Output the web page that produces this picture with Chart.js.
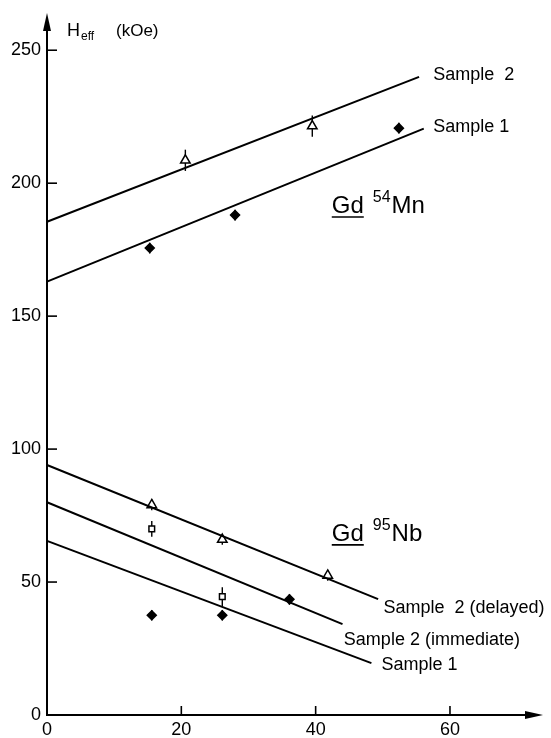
<!DOCTYPE html>
<html lang="en">
<head>
    <meta charset="utf-8" />
    <title>Heff vs x</title>
    <script src="https://cdn.jsdelivr.net/npm/chart.js"></script>
    <style>
        body { margin: 0; background: #fff; }
        #wrap { width: 551px; height: 738px; }
    </style>
</head>
<body>
    <div id="wrap"><canvas id="heffChart" width="551" height="738"></canvas></div>
    <script>
        // tick labels
        const xTicks = [0, 20, 40, 60];
        const yTicks = [0, 50, 100, 150, 200, 250];

        // Gd 54Mn
        const mnS1X = [15.3, 28.0, 52.4];
        const mnS1Y = [175.6, 188.0, 220.7];
        const mnS1Err = [2, 2, 2];
        const mnS2X = [20.6, 39.5];
        const mnS2Y = [208.6, 221.5];
        const mnS2Err = [4, 4];

        // Gd 95Nb
        const nbS1X = [15.6, 26.1, 36.1];
        const nbS1Y = [37.5, 37.5, 43.5];
        const nbS1Err = [2, 2, 2];
        const nbImmX = [15.6, 26.1];
        const nbImmY = [70.0, 44.5];
        const nbImmErr = [3, 3.5];
        const nbDelX = [15.6, 26.1, 41.8];
        const nbDelY = [79.0, 66.0, 52.5];
        const nbDelErr = [2, 2, 2];

        // fitted lines (end points)
        const fitMnS2X = [0, 55.4], fitMnS2Y = [185.5, 240.0];
        const fitMnS1X = [0, 56.1], fitMnS1Y = [163.0, 220.5];
        const fitNbDelX = [0, 49.3], fitNbDelY = [94.0, 43.6];
        const fitNbImmX = [0, 44.0], fitNbImmY = [80.0, 34.2];
        const fitNbS1X = [0, 48.3], fitNbS1Y = [65.5, 19.5];

        const FONT = '"Liberation Sans", Arial, sans-serif';

        function pts(xs, ys) {
            return xs.map((x, i) => ({ x: x, y: ys[i] }));
        }

        function fitLine(xs, ys) {
            return {
                data: pts(xs, ys),
                showLine: true,
                borderColor: '#000',
                borderWidth: 2,
                pointRadius: 0,
                clip: false
            };
        }

        function markers(xs, ys, errs, style, fill, r) {
            return {
                data: pts(xs, ys),
                errs: errs,
                showLine: false,
                pointStyle: style,
                pointRadius: r,
                pointBackgroundColor: fill,
                pointBorderColor: '#000',
                pointBorderWidth: 1.5,
                clip: false
            };
        }

        const axesPlugin = {
            id: 'axesPlugin',
            beforeDatasetsDraw(chart) {
                const ctx = chart.ctx;
                const xs = chart.scales.x, ys = chart.scales.y;
                const x0 = xs.getPixelForValue(0), y0 = ys.getPixelForValue(0);
                const ca = chart.chartArea;
                ctx.save();
                ctx.strokeStyle = '#000';
                ctx.fillStyle = '#000';
                ctx.lineWidth = 2;
                // axes
                ctx.beginPath();
                ctx.moveTo(x0, ca.top + 14);
                ctx.lineTo(x0, y0);
                ctx.lineTo(ca.right - 14, y0);
                ctx.stroke();
                // arrows
                ctx.beginPath();
                ctx.moveTo(x0, ca.top);
                ctx.lineTo(x0 - 4, ca.top + 18);
                ctx.lineTo(x0 + 4, ca.top + 18);
                ctx.closePath();
                ctx.fill();
                ctx.beginPath();
                ctx.moveTo(ca.right - 1, y0);
                ctx.lineTo(ca.right - 19, y0 - 4);
                ctx.lineTo(ca.right - 19, y0 + 4);
                ctx.closePath();
                ctx.fill();

                // ticks and labels
                ctx.lineWidth = 1.6;
                ctx.font = '18px ' + FONT;
                ctx.textAlign = 'right';
                ctx.textBaseline = 'middle';
                yTicks.forEach(v => {
                    const py = ys.getPixelForValue(v);
                    if (v !== 0) {
                        ctx.beginPath();
                        ctx.moveTo(x0, py);
                        ctx.lineTo(x0 + 10, py);
                        ctx.stroke();
                    }
                    ctx.fillText(String(v), x0 - 6, py);
                });
                ctx.textAlign = 'center';
                ctx.textBaseline = 'top';
                xTicks.forEach(v => {
                    const px = xs.getPixelForValue(v);
                    if (v !== 0) {
                        ctx.beginPath();
                        ctx.moveTo(px, y0);
                        ctx.lineTo(px, y0 - 9);
                        ctx.stroke();
                    }
                    ctx.fillText(String(v), px, y0 + 6);
                });

                // axis title H_eff (kOe)
                ctx.textAlign = 'left';
                ctx.textBaseline = 'alphabetic';
                ctx.font = '18px ' + FONT;
                ctx.fillText('H', x0 + 20, 36);
                ctx.font = '12px ' + FONT;
                ctx.fillText('eff', x0 + 34, 40);
                ctx.font = '17px ' + FONT;
                ctx.fillText('(kOe)', x0 + 69, 36);

                // error bars
                ctx.lineWidth = 1.4;
                chart.data.datasets.forEach(ds => {
                    if (!ds.errs) return;
                    ds.data.forEach((p, i) => {
                        const px = xs.getPixelForValue(p.x);
                        ctx.beginPath();
                        ctx.moveTo(px, ys.getPixelForValue(p.y - ds.errs[i]));
                        ctx.lineTo(px, ys.getPixelForValue(p.y + ds.errs[i]));
                        ctx.stroke();
                    });
                });
                ctx.restore();
            },
            afterDatasetsDraw(chart) {
                const ctx = chart.ctx;
                const xs = chart.scales.x, ys = chart.scales.y;
                const px = v => xs.getPixelForValue(v);
                const py = v => ys.getPixelForValue(v);
                ctx.save();
                ctx.fillStyle = '#000';
                ctx.strokeStyle = '#000';
                ctx.textAlign = 'left';
                ctx.textBaseline = 'middle';
                ctx.font = '18px ' + FONT;
                ctx.fillText('Sample  2', px(57.5), py(240.5));
                ctx.fillText('Sample 1', px(57.5), py(221.0));
                ctx.fillText('Sample  2 (delayed)', px(50.1), py(40.2));
                ctx.fillText('Sample 2 (immediate)', px(44.2), py(28.1));
                ctx.fillText('Sample 1', px(49.8), py(18.7));

                // compound labels
                function compound(xv, yv, sup, tail) {
                    const x = px(xv), y = py(yv);
                    ctx.textBaseline = 'alphabetic';
                    ctx.font = '24px ' + FONT;
                    ctx.fillText('Gd', x, y);
                    const w = ctx.measureText('Gd').width;
                    ctx.lineWidth = 1.6;
                    ctx.beginPath();
                    ctx.moveTo(x, y + 4);
                    ctx.lineTo(x + w, y + 4);
                    ctx.stroke();
                    ctx.font = '16px ' + FONT;
                    const sx = x + w + 9;
                    ctx.fillText(sup, sx, y - 11);
                    const sw = ctx.measureText(sup).width;
                    ctx.font = '24px ' + FONT;
                    ctx.fillText(tail, sx + sw + 1, y);
                }
                compound(42.4, 188.8, '54', 'Mn');
                compound(42.4, 65.5, '95', 'Nb');
                ctx.restore();
            }
        };

        new Chart(document.getElementById('heffChart'), {
            type: 'scatter',
            data: {
                datasets: [
                    fitLine(fitMnS2X, fitMnS2Y),
                    fitLine(fitMnS1X, fitMnS1Y),
                    fitLine(fitNbDelX, fitNbDelY),
                    fitLine(fitNbImmX, fitNbImmY),
                    fitLine(fitNbS1X, fitNbS1Y),
                    markers(mnS1X, mnS1Y, mnS1Err, 'rectRot', '#000', 4.5),
                    markers(mnS2X, mnS2Y, mnS2Err, 'triangle', '#fff', 5.5),
                    markers(nbS1X, nbS1Y, nbS1Err, 'rectRot', '#000', 4.5),
                    markers(nbImmX, nbImmY, nbImmErr, 'rect', '#fff', 4),
                    markers(nbDelX, nbDelY, nbDelErr, 'triangle', '#fff', 5.5)
                ]
            },
            options: {
                responsive: false,
                devicePixelRatio: 1,
                animation: false,
                layout: { padding: { left: 47, right: 2, top: 13, bottom: 23 } },
                scales: {
                    x: { type: 'linear', min: 0, max: 74, display: false },
                    y: { type: 'linear', min: 0, max: 264, display: false }
                },
                plugins: {
                    legend: { display: false },
                    tooltip: { enabled: false }
                }
            },
            plugins: [axesPlugin]
        });
    </script>
</body>
</html>
